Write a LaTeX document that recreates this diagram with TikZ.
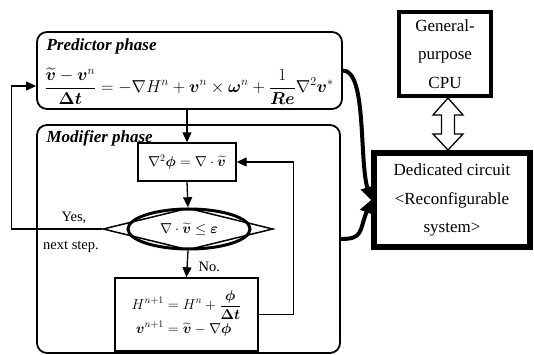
\documentclass[tikz,border=0pt]{standalone}
\usepackage{amsmath}
\usepackage{bm}
\usepackage[no-math]{fontspec}
\setmainfont{Liberation Serif}
\usetikzlibrary{calc, shapes.geometric, positioning, arrows.meta}

\begin{document}
\begin{tikzpicture}[x=1pt, y=-1pt, >={Triangle[length=10pt,width=9pt]},
    every node/.style={font=\fontsize{17}{28.5}\selectfont},
    phase/.style={draw, line width=1.8pt, rounded corners=10pt},
    title/.style={anchor=west, font=\fontsize{17}{20}\selectfont\bfseries\itshape},
    proc/.style={draw, line width=1.4pt, inner sep=0pt, font=\fontsize{14.5}{18}\selectfont},
    lbl/.style={font=\fontsize{14.5}{16}\selectfont},
    bus/.style={line width=4pt, -{Triangle[length=13pt,width=13pt]}}]
    \useasboundingbox (0,0) rectangle (534,355);

    % Hai pha
    \node[phase, minimum width=305, minimum height=77] (pred) at (189.5,70.5) {};
    \node[title] (predtitle) at (43,46) {Predictor phase};
    \node[font=\fontsize{16.5}{20}\selectfont] (predeq) at (189,86) {$\displaystyle
        \frac{\widetilde{\bm v}-\bm v^{n}}{\bm{\Delta t}}
        =-\nabla H^{n}+\bm v^{n}\times\bm\omega^{n}+\frac{1}{\bm{Re}}\nabla^{2}\bm v^{*}$};
    \node[phase, minimum width=303, minimum height=228] (mod) at (188.5,239) {};
    \node[title] (modtitle) at (43,138) {Modifier phase};

    % Cac khoi tinh toan
    \node[proc, minimum width=98, minimum height=38] (poisson) at (187,162)
        {$\nabla^{2}\bm\phi=\nabla\cdot\widetilde{\bm v}$};
    \node[draw, diamond, line width=1.5pt, inner sep=0pt, minimum width=170,
        minimum height=42] (check) at (188,229) {};
    \node[draw, ellipse, line width=3pt, inner sep=0pt, minimum width=122,
        minimum height=40, font=\fontsize{15}{18}\selectfont] (cond) at (189,229)
        {$\nabla\cdot\widetilde{\bm v}\le\bm\varepsilon$};
    \node[proc, minimum width=143, minimum height=73] (update) at (186.5,314.5)
        {$\begin{aligned}
            H^{n+1}&=H^{n}+\dfrac{\bm\phi}{\bm{\Delta t}}\\[-3pt]
            \bm v^{n+1}&=\widetilde{\bm v}-\nabla\bm\phi
        \end{aligned}$};

    % Nhan
    \node[lbl] (yes) at (74,218) {Yes,};
    \node[lbl] (next) at (71,247) {next step.};
    \node[lbl, anchor=west] (no) at (195,267) {No.};

    % Phan cung
    \node[draw, line width=4pt, align=center, minimum width=92, minimum height=84]
        (cpu) at (445,54) {General-\\purpose\\CPU};
    \node[draw, line width=6pt, align=center, minimum width=156, minimum height=94]
        (ded) at (452,200) {Dedicated circuit\\<Reconfigurable\\system>};
    \draw[line width=1.2pt] ([xshift=5pt,yshift=-5pt]ded.north west)
        rectangle ([xshift=-5pt,yshift=5pt]ded.south east);

    % Mui ten
    \draw[->, line width=1.3pt] (poisson.north |- pred.south) -- (poisson.north);
    \draw[->, line width=1.3pt] (poisson.south) -- (check.north);
    \draw[->, line width=1.3pt] (check.south) -- (update.north);
    \draw[->, line width=1.3pt] (update.east) -- ++(35,0) |- (poisson.east);
    \draw[->, line width=1.3pt] (check.west) -- ++(-91,0) |- (pred.west |- predeq);
    \draw[bus] (pred.east) .. controls +(24,0) and +(-12,-40) .. (ded.west);
    \draw[bus] (mod.east) .. controls +(22,0) and +(-12,32) .. (ded.west);

    % Mui ten rong hai dau
    \coordinate (ctop) at ($(cpu.south)+(3,0)$);
    \coordinate (cbot) at ($(ded.north)+(-4,0)$);
    \draw[line width=1.3pt, fill=white] (ctop) -- ++(15,17) -- ++(-8.5,0)
        -- ($(cbot)+(6.5,-16)$) -- ++(8.5,0) -- (cbot) -- ++(-15,-16) -- ++(8.5,0)
        -- ($(ctop)+(-6.5,17)$) -- ++(-8.5,0) -- cycle;
\end{tikzpicture}
\end{document}
